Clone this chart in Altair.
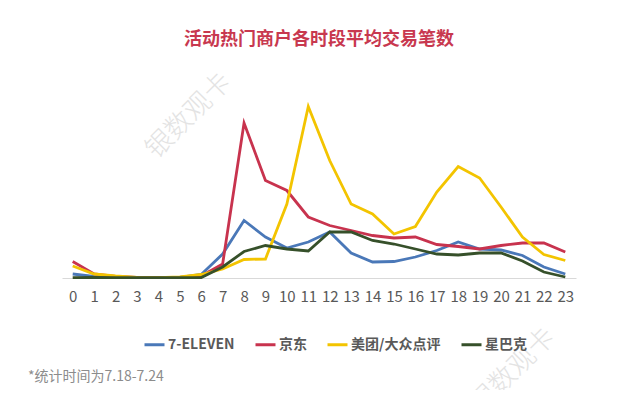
import altair as alt
import pandas as pd

hours = [str(h) for h in range(24)]
series_names = ["7-ELEVEN", "京东", "美团/大众点评", "星巴克"]
colors = ["#4a78b8", "#c8334e", "#f3c400", "#36502a"]

seven = [4, 1.5, 0.8, 0.5, 0.5, 0.5, 3.5, 24, 57.5, 41, 30, 36, 46, 25, 16, 16.5, 21, 27.5, 36, 29, 28, 22.5, 11, 4]
jd = [16.5, 4, 1.5, 0.5, 0.3, 0.5, 2, 14, 155, 97.5, 87.5, 61, 52.5, 47.5, 42.5, 40, 41, 33.5, 31.5, 29, 32.5, 35, 35, 26]
meituan = [12, 4, 2, 0.5, 0.3, 1, 3.5, 9, 18.5, 19, 74, 171.5, 117.5, 74, 64, 44, 51.5, 86, 111.5, 100, 71, 41, 23.5, 17.5]
starbucks = [0.3, 0.5, 0.3, 0.3, 0.3, 0.3, 0.5, 11, 26.5, 32.5, 29, 27, 46, 46, 37.5, 34, 29, 24, 23, 25, 25, 17, 6, 1]

title_text = "活动热门商户各时段平均交易笔数"
footnote = "*统计时间为7.18-7.24"
watermark = "银数观卡"

rows = []
for name, vals in zip(series_names, [seven, jd, meituan, starbucks]):
    for h, v in zip(hours, vals):
        rows.append({"hour": h, "value": v, "series": name})
df = pd.DataFrame(rows)

FONT = "Noto Sans CJK SC"

lines = alt.Chart(df).mark_line(strokeWidth=2.8, strokeJoin="miter").encode(
    x=alt.X("hour:N", sort=hours, scale=alt.Scale(type="point", padding=0.5),
            axis=alt.Axis(title=None, labelAngle=0, labelFontSize=15, labelColor="#595959",
                          labelFont=FONT, ticks=False, domainColor="#d9d9d9", domainWidth=1,
                          labelPadding=11, grid=False)),
    y=alt.Y("value:Q", scale=alt.Scale(domain=[0, 200], nice=False), axis=None),
    color=alt.Color("series:N", sort=series_names,
                    scale=alt.Scale(domain=series_names, range=colors),
                    legend=alt.Legend(title=None, orient="none", legendX=81, legendY=255,
                                      direction="horizontal", symbolType="stroke",
                                      symbolSize=400, symbolStrokeWidth=3,
                                      labelFontSize=14, labelFont=FONT, labelFontWeight="bold",
                                      labelColor="#595959", columnPadding=14, labelOffset=2)),
)

foot = alt.Chart(pd.DataFrame({"t": [footnote]})).mark_text(
    align="left", baseline="middle", fontSize=14, font=FONT, color="#8c8c8c"
).encode(x=alt.value(-34), y=alt.value(299), text="t:N")

wm = alt.Chart(pd.DataFrame({"t": [watermark]})).mark_text(
    align="center", baseline="middle", fontSize=27, font=FONT, fontWeight=300,
    color="#e3e3e3", angle=315
).encode(x=alt.value(127), y=alt.value(38), text="t:N")

wm2 = alt.Chart(pd.DataFrame({"t": [watermark]})).mark_text(
    align="center", baseline="middle", fontSize=27, font=FONT, fontWeight=300,
    color="#e3e3e3", angle=315
).encode(x=alt.value(451), y=alt.value(293), text="t:N")

chart = alt.layer(wm, wm2, lines, foot).properties(
    width=514, height=200,
    title=alt.TitleParams(title_text, font=FONT, fontSize=18, fontWeight="bold",
                          color="#c8384f", anchor="middle", offset=19),
    padding={"left": 54, "top": 70, "right": 56, "bottom": 112},
    autosize=alt.AutoSizeParams(type="none"),
).configure_view(stroke=None)

chart.save("out.html", embed_options={"renderer": "svg", "actions": False})
